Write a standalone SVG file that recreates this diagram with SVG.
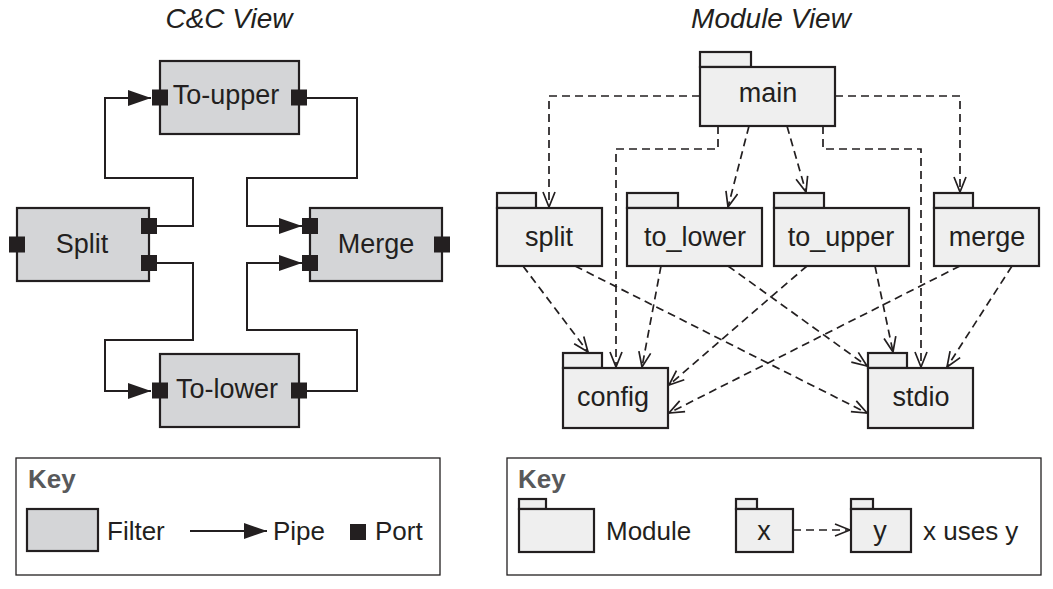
<svg xmlns="http://www.w3.org/2000/svg" width="1053" height="589" viewBox="0 0 1053 589">
<style>
text{font-family:"Liberation Sans",Arial,sans-serif;fill:#231f20}
.t{font-size:28px;font-style:italic}
.lbl{font-size:27px;text-anchor:middle}
.klbl{font-size:26px}
.key{font-size:26px;font-weight:bold;fill:#58595b}
.filter{fill:#d4d5d7;stroke:#231f20;stroke-width:2.2}
.port{fill:#231f20}
.mod{fill:#efefef;stroke:#231f20;stroke-width:2.2}
.pipe{fill:none;stroke:#231f20;stroke-width:2;marker-end:url(#tri)}
.dep{fill:none;stroke:#231f20;stroke-width:1.7;stroke-dasharray:8 5;marker-end:url(#vee)}
.kbox{fill:#fff;stroke:#231f20;stroke-width:1.3}
</style>
<defs>
<marker id="tri" markerUnits="userSpaceOnUse" markerWidth="24" markerHeight="18" refX="23" refY="8" orient="auto">
<path d="M0,0 L23,8 L0,16 z" fill="#231f20"/>
</marker>
<marker id="vee" markerUnits="userSpaceOnUse" markerWidth="18" markerHeight="16" refX="16" refY="7" orient="auto">
<path d="M1,1 L16,7 L1,13" fill="none" stroke="#231f20" stroke-width="1.7"/>
</marker>
</defs>
<rect width="1053" height="589" fill="#fff"/>

<text class="t" x="229" y="28" text-anchor="middle">C&amp;C View</text>
<text class="t" x="771" y="28" text-anchor="middle">Module View</text>

<g id="pipes">
<path class="pipe" d="M157,226 H193 V178 H105 V98 H151"/>
<path class="pipe" d="M307,98 H357 V178 H247 V226 H302"/>
<path class="pipe" d="M157,263 H193 V340 H105 V391 H151"/>
<path class="pipe" d="M307,391 H357 V330 H247 V263 H302"/>
</g>

<g id="to-upper">
<rect class="filter" x="160" y="61" width="139" height="73"/>
<rect class="port" x="152" y="89.5" width="16" height="16"/>
<rect class="port" x="291" y="89.5" width="16" height="16"/>
<text class="lbl" x="226" y="104">To-upper</text>
</g>
<g id="split">
<rect class="filter" x="17" y="208" width="132" height="73"/>
<rect class="port" x="9" y="236.5" width="16" height="16"/>
<rect class="port" x="141" y="218" width="16" height="16"/>
<rect class="port" x="141" y="255" width="16" height="16"/>
<text class="lbl" x="82" y="253">Split</text>
</g>
<g id="merge">
<rect class="filter" x="310" y="208" width="132" height="73"/>
<rect class="port" x="302" y="218" width="16" height="16"/>
<rect class="port" x="302" y="255" width="16" height="16"/>
<rect class="port" x="434" y="236.5" width="16" height="16"/>
<text class="lbl" x="376" y="253">Merge</text>
</g>
<g id="to-lower">
<rect class="filter" x="160" y="354" width="139" height="73"/>
<rect class="port" x="152" y="382.5" width="16" height="16"/>
<rect class="port" x="291" y="382.5" width="16" height="16"/>
<text class="lbl" x="227" y="398">To-lower</text>
</g>

<g id="uses">
<path class="dep" d="M700,96 H549 V207"/>
<path class="dep" d="M718,126 V149 H616 V367"/>
<path class="dep" d="M749,126 L728,207"/>
<path class="dep" d="M787,126 L806,192"/>
<path class="dep" d="M823,126 V149 H921 V367"/>
<path class="dep" d="M835,96 H960 V192"/>
<path class="dep" d="M523,266 L588,352"/>
<path class="dep" d="M575,266 L867,413"/>
<path class="dep" d="M661,266 L642,367"/>
<path class="dep" d="M728,266 L867,366"/>
<path class="dep" d="M807,266 L669,385"/>
<path class="dep" d="M875,266 L893,352"/>
<path class="dep" d="M960,266 L669,413"/>
<path class="dep" d="M1012,266 L947,367"/>
</g>

<g id="main">
<rect class="mod" x="700" y="52" width="51" height="15"/>
<rect class="mod" x="700" y="67" width="135" height="59"/>
<text class="lbl" x="768" y="102">main</text>
</g>
<g id="split-mod">
<rect class="mod" x="497" y="193" width="39" height="15"/>
<rect class="mod" x="497" y="208" width="105" height="58"/>
<text class="lbl" x="549" y="246">split</text>
</g>
<g id="to_lower">
<rect class="mod" x="627" y="193" width="51" height="15"/>
<rect class="mod" x="627" y="208" width="135" height="58"/>
<text class="lbl" x="695" y="246">to_lower</text>
</g>
<g id="to_upper">
<rect class="mod" x="774" y="193" width="50" height="15"/>
<rect class="mod" x="774" y="208" width="135" height="58"/>
<text class="lbl" x="841" y="246">to_upper</text>
</g>
<g id="merge-mod">
<rect class="mod" x="934" y="193" width="39" height="15"/>
<rect class="mod" x="934" y="208" width="105" height="58"/>
<text class="lbl" x="987" y="246">merge</text>
</g>
<g id="config">
<rect class="mod" x="563" y="353" width="39" height="15"/>
<rect class="mod" x="563" y="368" width="105" height="60"/>
<text class="lbl" x="613" y="406">config</text>
</g>
<g id="stdio">
<rect class="mod" x="868" y="353" width="39" height="15"/>
<rect class="mod" x="868" y="368" width="105" height="60"/>
<text class="lbl" x="921" y="406">stdio</text>
</g>

<g id="key-cc">
<rect class="kbox" x="16" y="458" width="424" height="117"/>
<text class="key" x="28" y="488">Key</text>
<rect class="filter" x="27" y="509" width="71" height="42"/>
<text class="klbl" x="107" y="540">Filter</text>
<path class="pipe" d="M190,531 H267"/>
<rect class="port" x="350" y="524" width="16" height="16"/>
<text class="klbl" x="273" y="540">Pipe</text>
<text class="klbl" x="375" y="540">Port</text>
</g>

<g id="key-module">
<rect class="kbox" x="507" y="458" width="534" height="117"/>
<text class="key" x="518" y="488">Key</text>
<rect class="mod" x="519" y="499" width="27" height="10"/>
<rect class="mod" x="519" y="509" width="75" height="43"/>
<text class="klbl" x="606" y="540">Module</text>
<rect class="mod" x="736" y="499" width="21" height="10"/>
<rect class="mod" x="736" y="509" width="57" height="43"/>
<text class="lbl" x="764" y="540">x</text>
<path class="dep" d="M793,530 H850"/>
<rect class="mod" x="851" y="499" width="22" height="10"/>
<rect class="mod" x="851" y="509" width="60" height="43"/>
<text class="lbl" x="880" y="540">y</text>
<text class="klbl" x="923" y="540">x uses y</text>
</g>
</svg>
